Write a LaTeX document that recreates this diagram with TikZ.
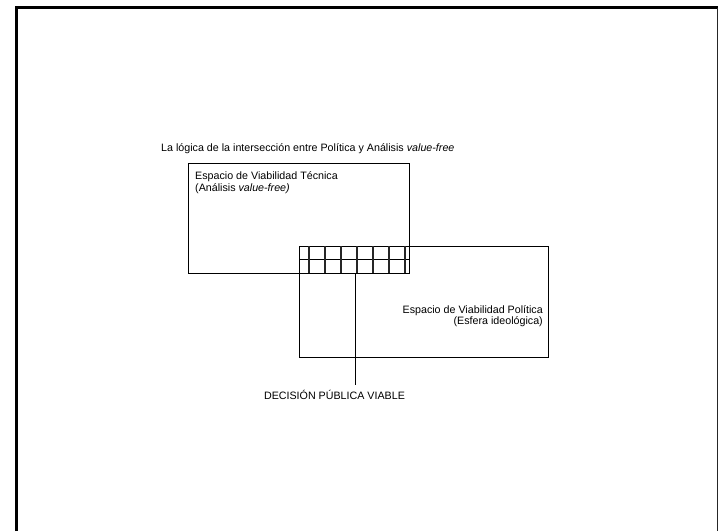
\documentclass[tikz,border=0pt]{standalone}
\usepackage{fontspec}
\setmainfont{Liberation Sans}
\begin{document}
\begin{tikzpicture}[x=1pt,y=-1pt,
  thinline/.style={line width=0.9pt,draw=black},
  gridbar/.style={line width=2.6pt,draw=black!85},
  spacebox/.style={thinline,rectangle,inner sep=0pt,anchor=north west},
  txt/.style={inner sep=0pt,font=\fontsize{10.7}{11.5}\selectfont}]
  \useasboundingbox (0,0) rectangle (719,531);
  % page frame (open at the bottom)
  \draw[line width=3pt] (16.5,531) -- (16.5,7.5) -- (718,7.5);
  \draw[line width=1.4pt,draw=black!85] (717.5,7.5) -- (717.5,531);

  % title
  \node[txt,anchor=base west] (title) at (161,151)
    {La lógica de la intersección entre Política y Análisis \textit{value-free}};

  % the two feasibility spaces
  \node[spacebox,minimum width=221pt,minimum height=110pt] (tec) at (188,163) {};
  \node[spacebox,minimum width=249pt,minimum height=111pt] (pol) at (299,246) {};

  \node[txt,anchor=north west,align=left] (tectxt) at (195,171.5)
    {Espacio de Viabilidad Técnica\\(Análisis \textit{value-free)}};
  \node[txt,anchor=north east,align=right] (poltxt) at (543,305)
    {Espacio de Viabilidad Política\\(Esfera ideológica)};

  % intersection grid
  \draw[thinline] (tec.east |- pol.north) ++(0,13.5) coordinate (gridmidR)
        -- (pol.west |- gridmidR);
  \foreach \gx in {309,325,341,357,373,389,405}
    \draw[gridbar] (\gx,246) -- (\gx,273);

  % viable public decision
  \node[txt,anchor=base] (dec) at (334.5,399) {DECISIÓN PÚBLICA VIABLE};
  \coordinate (gridlow) at (355,273);
  \coordinate (dectop) at (355,385);
  \draw[thinline] (gridlow) -- (dectop);
\end{tikzpicture}
\end{document}
